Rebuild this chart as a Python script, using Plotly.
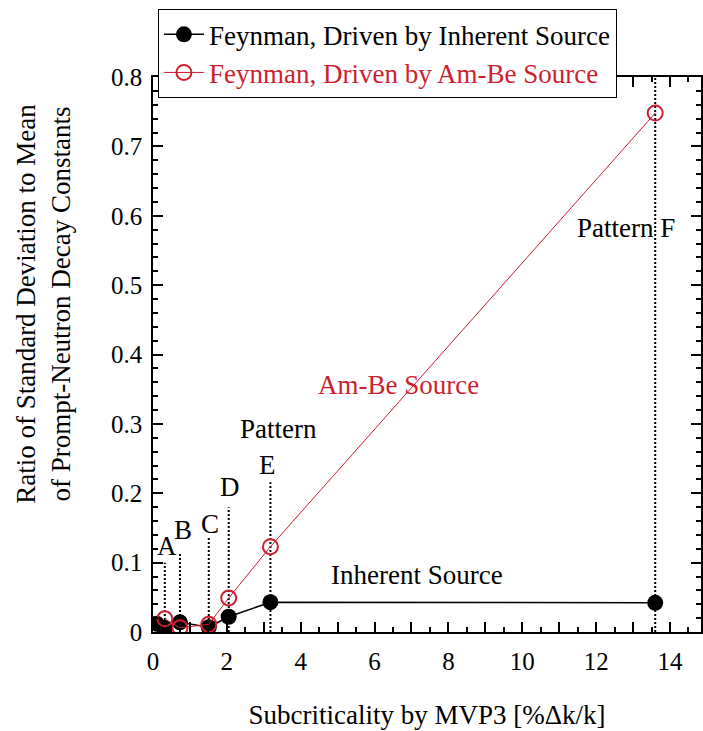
import plotly.graph_objects as go

# Subcriticality [%Δk/k] and std/mean ratio of prompt-neutron decay constants
inherent_x = [0.10, 0.30, 0.73, 1.51, 2.05, 3.18, 13.60]
inherent_y = [0.012, 0.006, 0.014, 0.007, 0.022, 0.043, 0.042]

ambe_x = [0.32, 0.73, 1.51, 2.05, 3.18, 13.60]
ambe_y = [0.019, 0.006, 0.011, 0.049, 0.123, 0.748]

# Measurement patterns: subcriticality position and height of the marker line
pattern_names = ["A", "B", "C", "D", "E", "F"]
pattern_x = [0.32, 0.73, 1.51, 2.05, 3.18, 13.60]
pattern_line_top = [0.100, 0.115, 0.136, 0.180, 0.216, 0.80]

x_tick_vals = list(range(0, 15))
x_tick_text = [str(v) if v % 2 == 0 else "" for v in x_tick_vals]
y_tick_vals = [0, 0.1, 0.2, 0.3, 0.4, 0.5, 0.6, 0.7, 0.8]
y_tick_text = ["0", "0.1", "0.2", "0.3", "0.4", "0.5", "0.6", "0.7", "0.8"]

FONT = "Times New Roman, Liberation Serif, serif"
RED = "#cc1f2f"

fig = go.Figure()

fig.add_trace(go.Scatter(
    x=inherent_x, y=inherent_y, mode="lines+markers",
    name="Feynman, Driven by Inherent Source",
    line=dict(color="black", width=1.5),
    marker=dict(symbol="circle", size=16, color="black"),
))
fig.add_trace(go.Scatter(
    x=ambe_x, y=ambe_y, mode="lines+markers",
    name=f"<span style='color:{RED}'>Feynman, Driven by Am-Be Source</span>",
    line=dict(color=RED, width=1),
    marker=dict(symbol="circle-open", size=15, color=RED, line=dict(width=2)),
))

# dotted guide lines marking each pattern
for px, top in zip(pattern_x, pattern_line_top):
    fig.add_shape(type="line", xref="x", yref="y", x0=px, x1=px, y0=0, y1=top,
                  line=dict(color="black", width=2, dash="2px,2px"), layer="below")

labels = [
    ("A", 0.38, 0.124, "black"),
    ("B", 0.80, 0.147, "black"),
    ("C", 1.54, 0.156, "black"),
    ("D", 2.08, 0.209, "black"),
    ("E", 3.10, 0.241, "black"),
    ("Pattern", 3.40, 0.293, "black"),
    ("Pattern F", 12.80, 0.582, "black"),
    ("Am-Be Source", 6.66, 0.356, RED),
    ("Inherent Source", 7.15, 0.082, "black"),
]
for text, lx, ly, col in labels:
    fig.add_annotation(x=lx, y=ly, xref="x", yref="y", text=text, showarrow=False,
                       font=dict(family=FONT, size=27, color=col))

# two-line y-axis title
fig.add_annotation(
    x=-0.2, y=0.592, xref="paper", yref="paper", textangle=-90, showarrow=False,
    text="Ratio of Standard Deviation to Mean<br>of Prompt-Neutron Decay Constants",
    font=dict(family=FONT, size=27, color="black"), xanchor="center", yanchor="middle",
)

tick_font = dict(family=FONT, size=25, color="black")

fig.update_layout(
    width=703, height=731,
    margin=dict(l=153, r=0, t=77, b=99),
    paper_bgcolor="white", plot_bgcolor="white",
    font=dict(family=FONT, size=25, color="black"),
    showlegend=True,
    legend=dict(x=0.009, y=1.122, xanchor="left", yanchor="top",
                bgcolor="white", bordercolor="black", borderwidth=1,
                font=dict(family=FONT, size=27, color="black"),
                tracegroupgap=0, itemwidth=40),
    xaxis=dict(
        range=[0, 14.84], showgrid=False, zeroline=False,
        showline=True, linecolor="black", linewidth=1.5, mirror="ticks",
        tickmode="array", tickvals=x_tick_vals, ticktext=x_tick_text,
        tickfont=tick_font,
        ticks="inside", ticklen=10, tickwidth=1.5, tickcolor="black",
        ticklabelstandoff=6,
        minor=dict(dtick=0.5, ticks="inside", ticklen=5, tickwidth=1.5, tickcolor="black"),
        title=dict(text="Subcriticality by MVP3 [%Δk/k]", standoff=31,
                   font=dict(family=FONT, size=27, color="black")),
    ),
    yaxis=dict(
        range=[0, 0.8], showgrid=False, zeroline=False,
        showline=True, linecolor="black", linewidth=1.5, mirror="ticks",
        tickmode="array", tickvals=y_tick_vals, ticktext=y_tick_text,
        tickfont=tick_font,
        ticks="inside", ticklen=10, tickwidth=1.5, tickcolor="black",
        ticklabelstandoff=4,
        minor=dict(dtick=0.02, ticks="inside", ticklen=5, tickwidth=1.5, tickcolor="black"),
    ),
)

fig.write_html("out.html")
